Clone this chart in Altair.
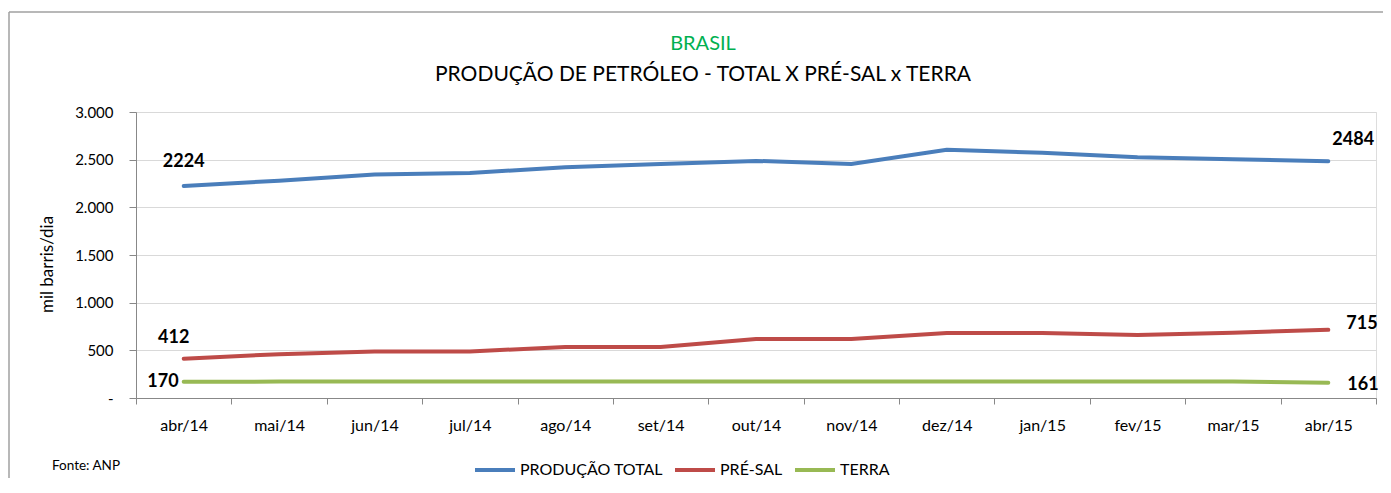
import altair as alt
import pandas as pd

meses = ['abr/14', 'mai/14', 'jun/14', 'jul/14', 'ago/14', 'set/14', 'out/14',
         'nov/14', 'dez/14', 'jan/15', 'fev/15', 'mar/15', 'abr/15']
total = [2224, 2280, 2345, 2360, 2420, 2455, 2487, 2455, 2603, 2572, 2526, 2505, 2484]
presal = [412, 460, 487, 489, 535, 535, 620, 620, 683, 683, 660, 685, 715]
terra = [170, 172, 173, 173, 174, 174, 174, 174, 174, 174, 174, 174, 161]

series_names = ['PRODUÇÃO TOTAL', 'PRÉ-SAL', 'TERRA']
series_colors = ['#4A7EBB', '#BE4B48', '#98B954']
y_ticks = [0, 500, 1000, 1500, 2000, 2500, 3000]

titulo = 'BRASIL'
subtitulo = 'PRODUÇÃO DE PETRÓLEO - TOTAL X PRÉ-SAL x TERRA'
fonte_txt = 'Fonte: ANP'

FONT = 'Lato'

rows = []
for name, vals in zip(series_names, [total, presal, terra]):
    for m, v in zip(meses, vals):
        rows.append({'mes': m, 'serie': name, 'valor': v})
df = pd.DataFrame(rows)

base = alt.Chart(df)

x_enc = alt.X('mes:N', sort=meses,
              scale=alt.Scale(type='band', paddingInner=0, paddingOuter=0),
              axis=alt.Axis(title=None, labelAngle=0, labelFont=FONT, labelFontSize=16,
                            labelColor='#000000', tickBand='extent', tickSize=6,
                            tickColor='#888888', domainColor='#888888', labelPadding=13,
                            grid=False))
y_enc = alt.Y('valor:Q', scale=alt.Scale(domain=[0, 3000], nice=False),
              axis=alt.Axis(title='mil barris/dia', values=y_ticks,
                            labelExpr="datum.value == 0 ? '-' : replace(format(datum.value, ','), ',', '.')",
                            labelFont=FONT, labelFontSize=15, labelColor='#000000',
                            tickSize=7, tickColor='#888888', domainColor='#888888',
                            labelPadding=16, gridColor='#d9d9d9', gridWidth=1,
                            titleFont=FONT, titleFontSize=17, titleFontWeight='normal',
                            titleColor='#000000', titleX=-84, titleY=152, titleAngle=-90,
                            titleAlign='center', titleBaseline='alphabetic'))

lines = base.mark_line(strokeWidth=4, strokeCap='round').encode(
    x=x_enc, y=y_enc,
    color=alt.Color('serie:N', sort=series_names,
                    scale=alt.Scale(domain=series_names, range=series_colors),
                    legend=alt.Legend(title=None, orient='none', legendX=337, legendY=336,
                                      direction='horizontal', symbolType='stroke',
                                      symbolStrokeWidth=4, symbolSize=1600,
                                      labelFont=FONT, labelFontSize=16, labelColor='#000000',
                                      labelOffset=3, columnPadding=4)),
)

def label(month, serie, align, dx, dy, baseline):
    return base.transform_filter(
        (alt.datum.mes == month) & (alt.datum.serie == serie)
    ).mark_text(font=FONT, fontSize=18, fontWeight='bold', color='#000000',
                align=align, dx=dx, dy=dy, baseline=baseline).encode(
        x=alt.X('mes:N', sort=meses), y='valor:Q', text='valor:Q')

labels = [
    label('abr/14', 'PRODUÇÃO TOTAL', 'center', 0, -19, 'alphabetic'),
    label('abr/14', 'PRÉ-SAL', 'center', -10, -16, 'alphabetic'),
    label('abr/14', 'TERRA', 'right', -5, 0, 'middle'),
    label('abr/15', 'PRODUÇÃO TOTAL', 'left', 4, -16, 'alphabetic'),
    label('abr/15', 'PRÉ-SAL', 'left', 18, -6, 'middle'),
    label('abr/15', 'TERRA', 'left', 19, 2, 'middle'),
]

def texto(t, x, y, size, color, align='left'):
    return alt.Chart(pd.DataFrame({'t': [t]})).mark_text(
        font=FONT, fontSize=size, color=color, align=align, baseline='alphabetic'
    ).encode(x=alt.value(x), y=alt.value(y), text='t:N')

title1 = texto(titulo, 567, -62, 20, '#00B050', 'center')
title2 = texto(subtitulo, 567, -31, 21, '#000000', 'center')
fonte = texto(fonte_txt, -84, 358, 13.5, '#000000')

frame_top = alt.Chart(pd.DataFrame({'a': [0]})).mark_rule(color='#a0a0a0', strokeWidth=1.5).encode(
    x=alt.value(-127), x2=alt.value(1250), y=alt.value(-100))
frame_left = alt.Chart(pd.DataFrame({'a': [0]})).mark_rule(color='#a0a0a0', strokeWidth=1.5).encode(
    x=alt.value(-127), y=alt.value(-100), y2=alt.value(380))

chart = alt.layer(lines, *labels, title1, title2, fonte, frame_top, frame_left).properties(
    width=1240, height=286,
    autosize=alt.AutoSizeParams(type='none'),
    padding={'left': 128, 'top': 104, 'right': 7, 'bottom': 80},
).configure_view(stroke=None).configure(background='white')

chart.save('out.html', embed_options={'renderer': 'svg', 'actions': False})
